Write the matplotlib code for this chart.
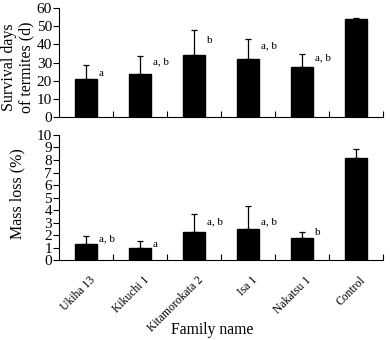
import matplotlib
matplotlib.use("Agg")
import matplotlib.pyplot as plt
import numpy as np

plt.rcParams['font.family'] = ['Liberation Serif', 'DejaVu Serif']

families = ["Ukiha 13", "Kikuchi 1", "Kitamorokata 2", "Isa 1", "Nakatsu 1", "Control"]
survival = [20.7, 23.5, 34.0, 31.8, 27.5, 54.0]
survival_err = [7.8, 10.0, 13.8, 11.2, 7.3, 0.3]
survival_letters = ["a", "a, b", "b", "a, b", "a, b", ""]
survival_letter_y = [24.2, 30.3, 42.0, 39.2, 32.8, 0]

mass_loss = [1.30, 1.00, 2.25, 2.45, 1.75, 8.15]
mass_err = [0.65, 0.55, 1.40, 1.85, 0.50, 0.75]
mass_letters = ["a, b", "a", "a, b", "a, b", "b", ""]
mass_letter_y = [1.74, 1.25, 3.07, 3.07, 2.2, 0]

fig = plt.figure(figsize=(3.9, 3.4), dpi=100)
ax1 = fig.add_axes([0.151, 0.656, 0.831, 0.320])
ax2 = fig.add_axes([0.151, 0.235, 0.831, 0.368])

x = np.arange(len(families))
bw = 0.4

def style(ax, ymax, step, ylabel, ly):
    ax.set_xlim(-0.5, len(x) - 0.5)
    ax.set_ylim(0, ymax)
    ax.set_yticks(np.arange(0, ymax + step / 2, step))
    ax.spines['top'].set_visible(False)
    ax.spines['right'].set_visible(False)
    ax.set_xticks(np.arange(0.5, len(x), 1.0))
    ax.set_xticklabels([])
    ax.tick_params(axis='x', direction='in', length=4, width=0.8)
    ax.tick_params(axis='y', direction='out', length=4, width=0.8, labelsize=11, pad=1)
    ax.set_ylabel(ylabel, fontsize=11.5, linespacing=1.12, va='center', ha='center')
    ax.yaxis.set_label_coords(-0.128, ly)

style(ax1, 60, 10, "Survival days\nof termites (d)", 0.46)
ax1.bar(x, survival, width=bw, color='black', edgecolor='black', zorder=3)
ax1.errorbar(x, survival, yerr=[np.zeros(len(x)), survival_err], fmt='none',
             ecolor='black', elinewidth=0.9, capsize=2.5, capthick=0.9, zorder=2)
for xi, t, yy in zip(x, survival_letters, survival_letter_y):
    if t:
        ax1.text(xi + bw / 2 + 0.04, yy, t, fontsize=8, ha='left', va='center')

style(ax2, 10, 1, "Mass loss (%)", 0.53)
ax2.bar(x, mass_loss, width=bw, color='black', edgecolor='black', zorder=3)
ax2.errorbar(x, mass_loss, yerr=[np.zeros(len(x)), mass_err], fmt='none',
             ecolor='black', elinewidth=0.9, capsize=2.5, capthick=0.9, zorder=2)
for xi, t, yy in zip(x, mass_letters, mass_letter_y):
    if t:
        ax2.text(xi + bw / 2 + 0.04, yy, t, fontsize=8, ha='left', va='center')

for xi, name in zip(x, families):
    ax2.annotate(name, xy=(xi + 0.06, 0), xycoords=('data', 'axes fraction'),
                 xytext=(0, -10), textcoords='offset points',
                 rotation=45, ha='right', va='top', fontsize=8.4,
                 rotation_mode='anchor')
fig.text(212 / 390, 1 - 330 / 340, "Family name", fontsize=11.3, ha='center', va='center')

fig.savefig("out.png", dpi=100)
